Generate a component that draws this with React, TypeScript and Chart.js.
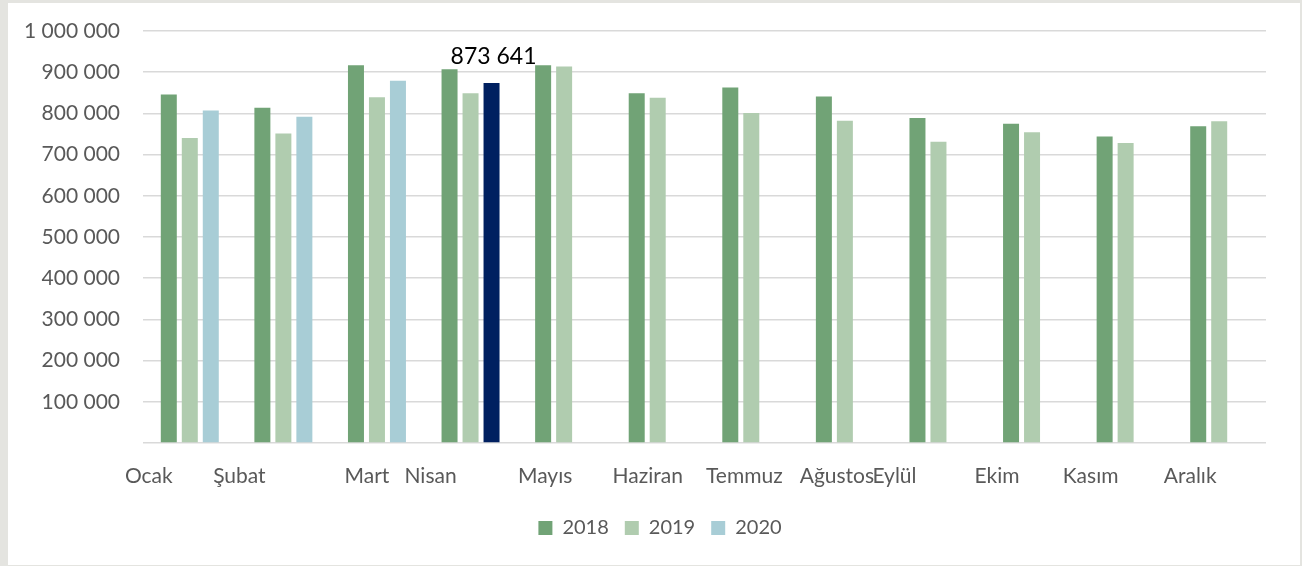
import React, { useEffect, useRef } from "react";
import { Chart, registerables } from "chart.js";

Chart.register(...registerables);

const months = ["Ocak", "Şubat", "Mart", "Nisan", "Mayıs", "Haziran", "Temmuz", "Ağustos", "Eylül", "Ekim", "Kasım", "Aralık"];
const series2018 = [846000, 814000, 917000, 907000, 917000, 849000, 863000, 841000, 789000, 775000, 744000, 769000];
const series2019 = [740000, 751000, 839000, 849000, 914000, 838000, 801000, 782000, 731000, 754000, 728000, 781000];
const series2020 = [807000, 792000, 879000, 873641, null, null, null, null, null, null, null, null];
const seriesNames = ["2018", "2019", "2020"];
const highlightIndex = 3;
const highlightLabel = "873 641";

// label horizontal shift (px) relative to category centre, to mimic the original layout
const labelShift = [-41, -44, -10, -40, -19, -10, -7, -8, -44, -35, -35, -29];

const fmt = (v: number) => String(v).replace(/\B(?=(\d{3})+(?!\d))/g, " ");

export default function App() {
  const ref = useRef<HTMLCanvasElement | null>(null);
  useEffect(() => {
    document.body.style.margin = "0";
    document.body.style.background = "#E4E4E0";
    const ctx = ref.current!;
    const labelPlugin = {
      id: "customLabels",
      afterLayout(chart: any) {
        if (chart.legend) {
          chart.legend.left += 23;
          chart.legend.right += 23;
        }
      },
      afterDraw(chart: any) {
        const c = chart.ctx;
        const xs = chart.scales.x;
        c.save();
        c.font = "21px Lato";
        c.fillStyle = "#595959";
        c.textAlign = "center";
        c.textBaseline = "middle";
        months.forEach((m, i) => {
          c.fillText(m, xs.getPixelForValue(i) + labelShift[i], chart.chartArea.bottom + 33);
        });
        const bar = chart.getDatasetMeta(2).data[highlightIndex];
        if (bar) {
          c.font = "23px Lato";
          c.fillStyle = "#000000";
          c.textBaseline = "alphabetic";
          c.fillText(highlightLabel, bar.x + 2, bar.y - 19);
        }
        c.restore();
      },
    };
    const chart = new Chart(ctx, {
      type: "bar",
      data: {
        labels: months,
        datasets: [
          { label: seriesNames[0], data: series2018, backgroundColor: "#71A376" },
          { label: seriesNames[1], data: series2019, backgroundColor: "#B0CCAF" },
          {
            label: seriesNames[2],
            data: series2020,
            backgroundColor: (c: any) => (c.dataIndex === highlightIndex ? "#002060" : "#A8CDD6"),
          },
        ],
      },
      options: {
        animation: false,
        responsive: true,
        maintainAspectRatio: false,
        layout: { padding: { left: 0, right: 34, top: 28, bottom: 17 } },
        datasets: { bar: { categoryPercentage: 0.673, barPercentage: 0.762 } },
        scales: {
          x: {
            grid: { display: false },
            border: { display: false },
            ticks: { display: false },
            afterFit: (s: any) => {
              s.height = 59;
            },
          },
          y: {
            min: 0,
            max: 1000000,
            grid: { color: "#D9D9D9", lineWidth: 1.5, drawTicks: true, tickLength: 23, tickColor: "rgba(0,0,0,0)" },
            border: { display: false },
            ticks: {
              stepSize: 100000,
              padding: 0,
              color: "#595959",
              font: { family: "Lato", size: 21 },
              callback: (v: any) => (v === 0 ? "" : fmt(v)),
            },
            afterFit: (s: any) => {
              s.width = 135;
            },
          },
        },
        plugins: {
          legend: {
            position: "bottom",
            labels: {
              boxWidth: 14,
              boxHeight: 14,
              padding: 16,
              color: "#595959",
              font: { family: "Lato", size: 20 },
            },
          },
          tooltip: { enabled: false },
        },
      },
      plugins: [labelPlugin],
    });
    return () => chart.destroy();
  }, []);
  return (
    <div style={{ position: "absolute", left: 8, top: 3, width: 1292, height: 562, background: "#FFFFFF" }}>
      <canvas ref={ref} />
    </div>
  );
}
